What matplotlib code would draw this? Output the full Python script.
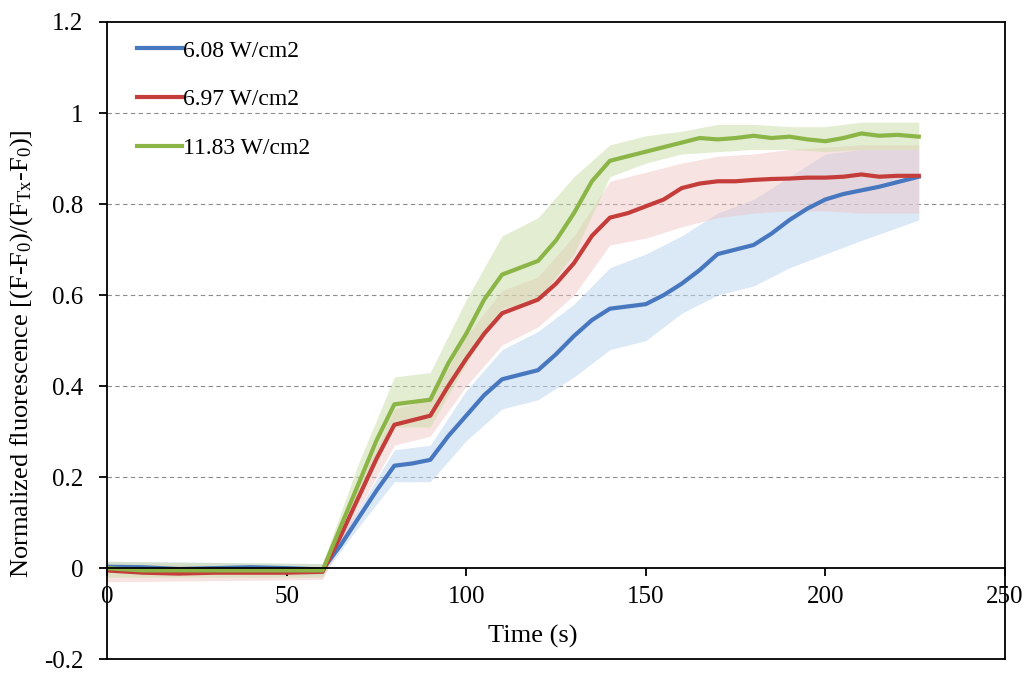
import matplotlib
matplotlib.use("Agg")
import matplotlib.pyplot as plt

plt.rcParams['font.family'] = ['Liberation Serif', 'DejaVu Serif']
plt.rcParams['mathtext.fontset'] = 'custom'
plt.rcParams['mathtext.rm'] = 'Liberation Serif'
plt.rcParams['mathtext.it'] = 'Liberation Serif:italic'

# time axis for the mean curves (s)
t = [0, 10, 20, 30, 40, 50, 60, 65, 70, 75, 80, 85, 90, 95, 100, 105, 110, 115, 120,
     125, 130, 135, 140, 145, 150, 155, 160, 165, 170, 175, 180, 185, 190, 195, 200,
     205, 210, 215, 220, 226]

blue = [0.003, 0.002, -0.002, 0.0, 0.002, 0.0, -0.003, 0.05, 0.11, 0.17, 0.225, 0.23,
        0.238, 0.29, 0.335, 0.38, 0.415, 0.425, 0.435, 0.47, 0.51, 0.545, 0.57, 0.575,
        0.58, 0.6, 0.625, 0.655, 0.69, 0.7, 0.71, 0.735, 0.765, 0.79, 0.81, 0.822,
        0.83, 0.838, 0.848, 0.86]
red = [-0.005, -0.01, -0.012, -0.01, -0.01, -0.01, -0.008, 0.07, 0.155, 0.24, 0.315,
       0.325, 0.335, 0.4, 0.46, 0.515, 0.56, 0.575, 0.59, 0.625, 0.67, 0.73, 0.77, 0.78,
       0.795, 0.81, 0.835, 0.845, 0.85, 0.85, 0.853, 0.855, 0.856, 0.858, 0.858, 0.86,
       0.865, 0.86, 0.862, 0.862]
green = [0.0, -0.005, -0.005, -0.005, -0.005, -0.005, -0.005, 0.09, 0.185, 0.28, 0.36,
         0.365, 0.37, 0.45, 0.515, 0.59, 0.645, 0.66, 0.675, 0.72, 0.78, 0.85, 0.895,
         0.905, 0.915, 0.925, 0.935, 0.945, 0.942, 0.945, 0.95, 0.945, 0.948, 0.942,
         0.938, 0.945, 0.955, 0.95, 0.952, 0.948]

# shaded spread (upper / lower envelope)
band_t = [0, 60, 70, 80, 90, 100, 110, 120, 130, 140, 150, 160, 170, 180, 190, 200, 210, 226]
blue_hi = [0.015, 0.01, 0.13, 0.26, 0.27, 0.39, 0.48, 0.52, 0.58, 0.66, 0.69, 0.73, 0.78,
           0.81, 0.86, 0.91, 0.92, 0.92]
blue_lo = [-0.01, -0.015, 0.09, 0.19, 0.19, 0.28, 0.35, 0.37, 0.42, 0.48, 0.50, 0.56, 0.60,
           0.62, 0.66, 0.69, 0.72, 0.765]
red_hi = [0.01, 0.005, 0.18, 0.35, 0.37, 0.51, 0.61, 0.64, 0.73, 0.85, 0.87, 0.89, 0.905,
          0.91, 0.92, 0.925, 0.93, 0.93]
red_lo = [-0.03, -0.025, 0.13, 0.27, 0.29, 0.40, 0.49, 0.53, 0.60, 0.71, 0.725, 0.75, 0.77,
          0.78, 0.785, 0.785, 0.78, 0.78]
green_hi = [0.015, 0.01, 0.23, 0.42, 0.43, 0.59, 0.73, 0.77, 0.86, 0.93, 0.95, 0.96, 0.975,
            0.975, 0.97, 0.97, 0.98, 0.98]
green_lo = [-0.02, -0.02, 0.15, 0.31, 0.31, 0.45, 0.57, 0.59, 0.69, 0.86, 0.89, 0.91, 0.915,
            0.92, 0.92, 0.915, 0.92, 0.92]

labels = ['6.08 W/cm2', '6.97 W/cm2', '11.83 W/cm2']
yticks = [-0.2, 0, 0.2, 0.4, 0.6, 0.8, 1.0, 1.2]
ytick_labels = ['-0.2', '0', '0.2', '0.4', '0.6', '0.8', '1', '1.2']
xticks = [0, 50, 100, 150, 200, 250]

c_blue, c_red, c_green = '#4677BF', '#C43D3A', '#8CB547'

fig = plt.figure(figsize=(10.26, 6.74), dpi=100)
ax = fig.add_axes([0.1043, 0.022, 0.8752, 0.9454])

# bands
ax.fill_between(band_t, blue_lo, blue_hi, color='#BFD6EE', alpha=0.55, lw=0)
ax.fill_between(band_t, red_lo, red_hi, color='#F0C2C2', alpha=0.45, lw=0)
ax.fill_between(band_t, green_lo, green_hi, color='#C9DCA6', alpha=0.5, lw=0)

ax.plot(t, blue, color=c_blue, lw=3, label=labels[0])
ax.plot(t, red, color=c_red, lw=3, label=labels[1])
ax.plot(t, green, color=c_green, lw=3, label=labels[2])

ax.set_xlim(0, 250)
ax.set_ylim(-0.2, 1.2)

# grid lines
for yv in [0.2, 0.4, 0.6, 0.8, 1.0]:
    ax.axhline(yv, color='#8C8C8C', lw=0.8, ls=(0, (4, 3)), zorder=0)

# x axis sits at y = 0, frame closed at -0.2
ax.spines['bottom'].set_position(('data', 0))
ax.axhline(-0.2, color='black', lw=1.3, clip_on=False)
for s in ax.spines.values():
    s.set_linewidth(1.3)

ax.set_yticks(yticks)
ax.set_yticklabels(ytick_labels)
ax.set_xticks(xticks)
ax.tick_params(axis='both', labelsize=18, direction='out', length=6, width=1.3)
ax.tick_params(axis='x', pad=7)
ax.tick_params(axis='y', pad=11)

ax.text(0.474, 0.035, 'Time (s)', transform=ax.transAxes, ha='center', va='center', fontsize=19)
ax.set_ylabel(r'Normalized fluorescence [(F-F$_0$)/(F$_{\mathrm{Tx}}$-F$_0$)]', fontsize=19)
ax.yaxis.set_label_coords(-0.08, 0.48)

ax.legend(loc='upper left', bbox_to_anchor=(0.01, 1.005), frameon=False, fontsize=17,
          handlelength=1.9, handletextpad=0.05, labelspacing=1.15)

fig.savefig('out.png', dpi=100)
